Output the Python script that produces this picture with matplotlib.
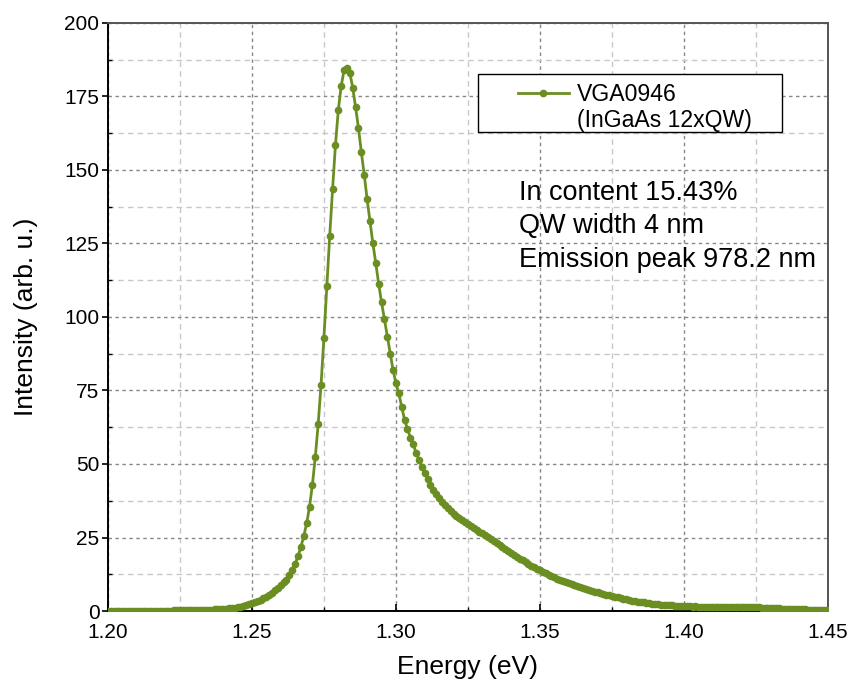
import numpy as np
import matplotlib
matplotlib.use("Agg")
import matplotlib.pyplot as plt
from matplotlib.ticker import MultipleLocator
from matplotlib.lines import Line2D
from matplotlib.patches import Rectangle

plt.rcParams['font.family'] = ['Liberation Sans', 'DejaVu Sans']

# Photon energy grid (eV), 1 meV step
energy = np.round(np.linspace(1.200, 1.450, 251), 3)

# PL intensity (arb. u.), one value per energy step
intensity = [
    0.1, 0.1, 0.1, 0.1, 0.1, 0.1, 0.1, 0.1, 0.1, 0.1,            # 1.200
    0.1, 0.1, 0.1, 0.1, 0.1, 0.1, 0.1, 0.1, 0.1, 0.1,            # 1.210
    0.1, 0.1, 0.1, 0.2, 0.2, 0.2, 0.2, 0.2, 0.3, 0.3,            # 1.220
    0.3, 0.3, 0.4, 0.4, 0.4, 0.5, 0.5, 0.6, 0.6, 0.7,            # 1.230
    0.8, 0.8, 0.9, 1.0, 1.1, 1.3, 1.5, 1.7, 2.0, 2.3,            # 1.240
    2.6, 3.0, 3.4, 3.8, 4.3, 4.8, 5.4, 6.0, 7.0, 7.8,            # 1.250
    8.7, 9.7, 10.6, 12.2, 14.1, 16.0, 18.7, 21.8, 25.5, 29.8,    # 1.260
    35.5, 43.0, 52.4, 63.5, 77.0, 93.0, 110.5, 127.5, 143.5, 158.5,  # 1.270
    170.5, 178.6, 184.0, 184.7, 183.0, 178.0, 171.3, 164.2, 156.0, 148.3,  # 1.280
    140.0, 132.5, 125.0, 118.3, 111.3, 105.0, 99.2, 93.3, 87.5, 82.0,  # 1.290
    77.5, 74.0, 69.5, 65.0, 62.0, 59.0, 56.7, 53.8, 51.4, 49.0,  # 1.300
    46.8, 45.0, 43.0, 41.2, 39.8, 38.3, 37.0, 35.9, 34.9, 34.0,  # 1.310
    33.1, 32.4, 31.7, 31.0, 30.3, 29.6, 28.9, 28.2, 27.5, 26.9,  # 1.320
    26.5, 25.9, 25.2, 24.5, 23.8, 23.1, 22.4, 21.7, 21.0, 20.3,  # 1.330
    19.6, 19.0, 18.4, 17.8, 17.2, 16.6, 16.0, 15.4, 14.9, 14.4,  # 1.340
    13.8, 13.3, 12.8, 12.3, 11.8, 11.4, 11.0, 10.6, 10.2, 9.8,   # 1.350
    9.5, 9.2, 8.9, 8.5, 8.2, 7.8, 7.5, 7.2, 6.9, 6.6,            # 1.360
    6.3, 6.0, 5.8, 5.5, 5.3, 5.1, 4.9, 4.6, 4.4, 4.2,            # 1.370
    4.0, 3.8, 3.5, 3.3, 3.2, 3.0, 2.9, 2.7, 2.6, 2.5,            # 1.380
    2.4, 2.3, 2.2, 2.1, 2.0, 1.9, 1.9, 1.8, 1.8, 1.7,            # 1.390
    1.7, 1.6, 1.6, 1.5, 1.6, 1.5, 1.5, 1.5, 1.4, 1.5,            # 1.400
    1.5, 1.4, 1.4, 1.5, 1.4, 1.4, 1.3, 1.4, 1.4, 1.3,            # 1.410
    1.4, 1.3, 1.3, 1.3, 1.2, 1.2, 1.2, 1.1, 1.1, 1.1,            # 1.420
    1.0, 1.0, 0.9, 0.9, 0.8, 0.8, 0.7, 0.7, 0.7, 0.6,            # 1.430
    0.6, 0.6, 0.6, 0.5, 0.5, 0.5, 0.5, 0.4, 0.4, 0.4,            # 1.440
    0.4,                                                         # 1.450
]

series_name = "VGA0946"
series_note = "(InGaAs 12xQW)"
info_lines = ["In content 15.43%", "QW width 4 nm", "Emission peak 978.2 nm"]
x_ticks = [1.20, 1.25, 1.30, 1.35, 1.40, 1.45]
y_ticks = [0, 25, 50, 75, 100, 125, 150, 175, 200]

color = "#6b8e23"

fig = plt.figure(figsize=(8.5, 6.83), dpi=100)
ax = fig.add_axes([0.127, 0.1054, 0.847, 0.861])

line, = ax.plot(energy, intensity, color=color, lw=2.0, marker="o", ms=4.5,
                mec=color, mfc=color, label=series_name, zorder=3)

ax.set_xlim(1.20, 1.45)
ax.set_ylim(0, 200)
ax.set_xticks(x_ticks)
ax.set_xticklabels([f"{v:.2f}" for v in x_ticks])
ax.set_yticks(y_ticks)
ax.xaxis.set_minor_locator(MultipleLocator(0.025))
ax.yaxis.set_minor_locator(MultipleLocator(12.5))

ax.grid(which="major", color="#888888", ls=(0, (2.5, 2.5)), lw=1.0)
ax.grid(which="minor", color="#c8c8c8", ls=(0, (4, 3)), lw=1.0)
ax.set_axisbelow(True)

ax.tick_params(axis="x", which="major", direction="in", length=5, width=1.2,
               labelsize=15, pad=8.5)
ax.tick_params(axis="x", which="minor", direction="in", length=3, width=1.0)
ax.tick_params(axis="y", which="major", direction="out", length=4.3, width=1.2,
               labelsize=15, pad=1.8)
ax.tick_params(axis="y", which="minor", direction="in", length=3, width=1.0)

for s in ["left", "bottom"]:
    ax.spines[s].set_color("black")
    ax.spines[s].set_linewidth(1.4)
for s in ["top", "right"]:
    ax.spines[s].set_color("#555555")
    ax.spines[s].set_linewidth(1.4)

ax.set_xlabel("Energy (eV)", fontsize=19)
ax.xaxis.set_label_coords(0.5, -0.075)
ax.set_ylabel("Intensity (arb. u.)", fontsize=19)
ax.yaxis.set_label_coords(-0.097, 0.5)

# legend box
ax.add_patch(Rectangle((0.5139, 0.8146), 0.4222, 0.0986, transform=ax.transAxes,
                       fill=True, facecolor="white", edgecolor="black",
                       lw=1.0, zorder=4))
blank = Line2D([], [], color="none")
leg = ax.legend([line, blank], [series_name, series_note], loc="upper left",
                bbox_to_anchor=(0.5694, 0.898), fontsize=16.6, frameon=False,
                handlelength=2.2, handletextpad=0.35, borderpad=0,
                borderaxespad=0, labelspacing=0.15)
leg.set_zorder(5)

ax.text(0.5708, 0.733, "\n".join(info_lines), transform=ax.transAxes,
        fontsize=19.5, va="top", ha="left", linespacing=1.37)

fig.savefig("out.png", dpi=100)
